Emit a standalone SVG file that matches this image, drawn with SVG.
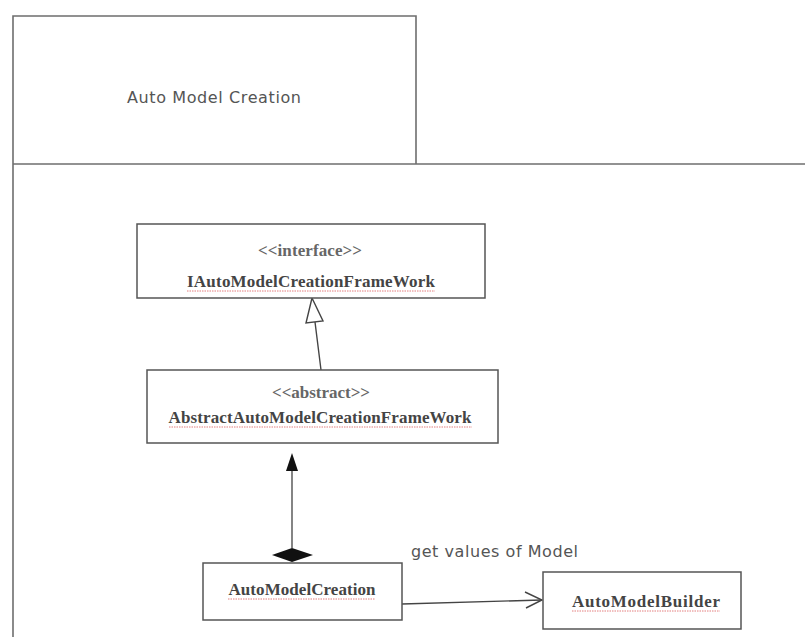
<svg xmlns="http://www.w3.org/2000/svg" width="805" height="637" viewBox="0 0 805 637">
<style>
.frame{fill:none;stroke:#6e6e6e;stroke-width:1.6}
.box{fill:#fff;stroke:#555;stroke-width:1.5}
.stereo{font-family:"Liberation Serif",serif;font-size:17px;font-weight:bold;fill:#666;text-anchor:middle}
.name{font-family:"Liberation Serif",serif;font-size:17px;font-weight:bold;fill:#444;text-anchor:middle}
.sans{font-family:"DejaVu Sans",sans-serif;font-size:16px;fill:#555}
.squig{fill:none;stroke:#e07070;stroke-width:0.9;stroke-dasharray:1.5,1}
.conn{fill:none;stroke:#444;stroke-width:1.4}
</style>
<rect width="805" height="637" fill="#fff"/>
<g id="package">
<path class="frame" d="M13,637 V16 H416 V164"/>
<path class="frame" d="M13,164 H805"/>
<text class="sans" x="214" y="103" text-anchor="middle" textLength="174">Auto Model Creation</text>
</g>
<g id="connectors">
<path class="conn" d="M321,370 L315,322"/>
<path d="M312,298 L306,323 L323,321 Z" fill="#fff" stroke="#444" stroke-width="1.4"/>
<path d="M292,548 V468" stroke="#666" stroke-width="1.6" fill="none"/>
<path d="M292,453 L286,471 L298,471 Z" fill="#111"/>
<path d="M272,555 L292,548 L313,555 L292,562 Z" fill="#111"/>
<path class="conn" d="M402,604 L542,600" stroke-width="1.8"/>
<path class="conn" d="M525,592 L542,600 L526,608" stroke-width="1.6"/>
<text class="sans" x="411" y="557" textLength="167">get values of Model</text>
</g>
<g id="IAutoModelCreationFrameWork">
<rect class="box" x="137" y="224" width="348" height="74"/>
<text class="stereo" x="310" y="256" textLength="104">&lt;&lt;interface&gt;&gt;</text>
<text class="name" x="311" y="287" textLength="248">IAutoModelCreationFrameWork</text>
<path class="squig" d="M187,291 H435"/>
</g>
<g id="AbstractAutoModelCreationFrameWork">
<rect class="box" x="147" y="370" width="351" height="73"/>
<text class="stereo" x="321" y="398" textLength="98">&lt;&lt;abstract&gt;&gt;</text>
<text class="name" x="320" y="423" textLength="303">AbstractAutoModelCreationFrameWork</text>
<path class="squig" d="M169,427 H472"/>
</g>
<g id="AutoModelCreation">
<rect class="box" x="203" y="563" width="199" height="57"/>
<text class="name" x="302" y="595" textLength="147">AutoModelCreation</text>
<path class="squig" d="M228,599 H375"/>
</g>
<g id="AutoModelBuilder">
<rect class="box" x="543" y="572" width="198" height="57"/>
<text class="name" x="646" y="607" textLength="148">AutoModelBuilder</text>
<path class="squig" d="M572,611 H720"/>
</g>
</svg>
